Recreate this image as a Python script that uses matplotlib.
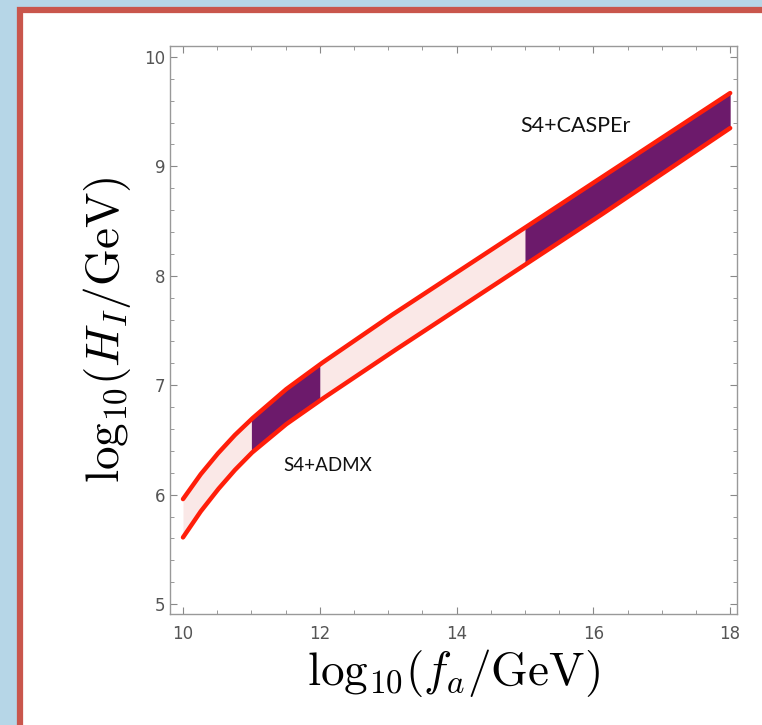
import numpy as np
import matplotlib.pyplot as plt
from matplotlib.patches import Rectangle
from matplotlib.ticker import MultipleLocator

plt.rcParams['mathtext.fontset'] = 'cm'

# band edges, log10(H_I/GeV) vs log10(f_a/GeV)
log_fa = [10, 10.25, 10.5, 10.75, 11, 11.5, 12, 13, 14, 15, 16, 17, 18]
upper = [5.96, 6.18, 6.37, 6.54, 6.69, 6.96, 7.19, 7.62, 8.03, 8.44, 8.85, 9.26, 9.67]
lower = [5.61, 5.84, 6.04, 6.22, 6.38, 6.64, 6.86, 7.28, 7.69, 8.10, 8.51, 8.93, 9.35]

# experiment ranges in log10(f_a/GeV)
regions = ['S4+ADMX', 'S4+CASPEr']
region_lo = [11, 15]
region_hi = [12, 18]

fig = plt.figure(figsize=(7.62, 7.25), dpi=100)

# slide background and red frame
fig.patches.append(Rectangle((0, 0), 1, 1, transform=fig.transFigure,
                             facecolor='#b6d6e7', edgecolor='none', zorder=-3))
fig.patches.append(Rectangle((20 / 762, -0.05), 1.0, 1.05 - 9.5 / 725,
                             transform=fig.transFigure, facecolor='white',
                             edgecolor='#c9564c', linewidth=4.5, zorder=-2))

ax = fig.add_axes([170 / 762, 1 - 614 / 725, 567 / 762, 568 / 725])
ax.set_facecolor('white')

# resample the edges finely so the shaded ranges start and stop cleanly
xf = np.linspace(log_fa[0], log_fa[-1], 801)
up = np.interp(xf, log_fa, upper)
lo = np.interp(xf, log_fa, lower)

ax.fill_between(xf, lo, up, color='#fae8e7', linewidth=0, zorder=1)
for a, b in zip(region_lo, region_hi):
    m = (xf >= a - 1e-9) & (xf <= b + 1e-9)
    ax.fill_between(xf[m], lo[m], up[m], color='#6c1a6b', linewidth=0, zorder=2)

ax.plot(xf, up, color='#ff1e0a', lw=3.2, solid_capstyle='round', zorder=3)
ax.plot(xf, lo, color='#ff1e0a', lw=3.2, solid_capstyle='round', zorder=3)

ax.text(11.47, 6.22, regions[0], fontsize=13.5, family='Lato', color='#111111')
ax.text(14.93, 9.31, regions[1], fontsize=15.5, family='Lato', color='#111111')

ax.set_xlim(9.81, 18.1)
ax.set_ylim(4.91, 10.1)
ax.xaxis.set_major_locator(MultipleLocator(2))
ax.xaxis.set_minor_locator(MultipleLocator(0.5))
ax.yaxis.set_major_locator(MultipleLocator(1))
ax.yaxis.set_minor_locator(MultipleLocator(0.2))
ax.tick_params(which='both', direction='in', top=True, right=True,
               color='#888888', labelcolor='#555555', labelsize=12)
ax.tick_params(which='major', length=5, width=0.8)
ax.tick_params(which='minor', length=3, width=0.6)
ax.tick_params(axis='x', pad=8)
for s in ax.spines.values():
    s.set_color('#999999')
    s.set_linewidth(1.0)

ax.set_xlabel(r'$\mathrm{log}_{10}(f_a/\mathrm{GeV})$', fontsize=34, labelpad=3)
ax.set_ylabel(r'$\mathrm{log}_{10}(H_I/\mathrm{GeV})$', fontsize=34, labelpad=8)

fig.savefig('out.png', dpi=100)
